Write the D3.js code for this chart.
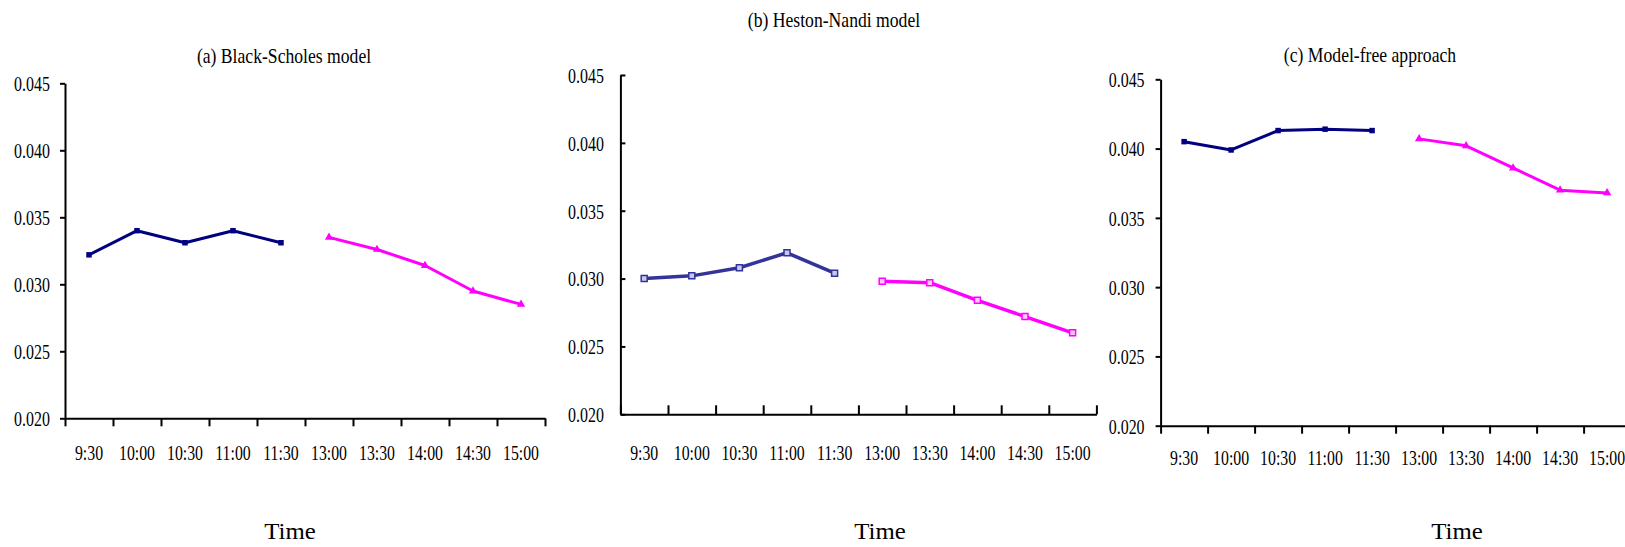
<!DOCTYPE html>
<html>
<head>
<meta charset="utf-8">
<script src="https://cdn.jsdelivr.net/npm/d3@7"></script>
<style>
  html, body { margin: 0; padding: 0; background: #fff; }
  svg { display: block; font-family: "Liberation Serif", "Times New Roman", serif; }
</style>
</head>
<body>
<div id="chart"></div>
<script>
const width = 1625;
const height = 547;

// categories and values
const times = ['9:30', '10:00', '10:30', '11:00', '11:30', '13:00', '13:30', '14:00', '14:30', '15:00'];
const morning = times.slice(0, 5);
const afternoon = times.slice(5);
const yTicks = [0.020, 0.025, 0.030, 0.035, 0.040, 0.045];

const bsMorning = [0.0322, 0.0340, 0.0331, 0.0340, 0.0331];
const bsAfternoon = [0.0335, 0.0326, 0.0314, 0.0295, 0.0285];
const hnMorning = [0.0300, 0.0302, 0.0308, 0.0319, 0.0304];
const hnAfternoon = [0.0298, 0.0297, 0.0284, 0.0272, 0.0260];
const mfMorning = [0.0405, 0.0399, 0.0413, 0.0414, 0.0413];
const mfAfternoon = [0.0407, 0.0402, 0.0386, 0.0370, 0.0368];

const titles = ['(a) Black-Scholes model', '(b) Heston-Nandi model', '(c) Model-free approach'];

// layout of each panel (pixels)
const panels = [
  { title: titles[0], am: bsMorning, pm: bsAfternoon,
    left: 65, step: 48, top: 83.3, bottom: 418.3, inward: false,
    titleX: 284, titleY: 63, labelRight: 50, xLabelY: 460, timeX: 290,
    amColor: '#000080', pmColor: '#ff00ff', amShape: d3.symbolSquare, pmShape: d3.symbolTriangle, hollow: false },
  { title: titles[1], am: hnMorning, pm: hnAfternoon,
    left: 620.4, step: 47.6, top: 75, bottom: 414.3, inward: true,
    titleX: 834, titleY: 27, labelRight: 604, xLabelY: 460, timeX: 880,
    amColor: '#333399', pmColor: '#ff00ff', amShape: d3.symbolSquare, pmShape: d3.symbolSquare, hollow: true },
  { title: titles[2], am: mfMorning, pm: mfAfternoon,
    left: 1160.6, step: 47.0, top: 79.3, bottom: 425.7, inward: false,
    titleX: 1370, titleY: 62, labelRight: 1144.6, xLabelY: 465, timeX: 1457,
    amColor: '#000080', pmColor: '#ff00ff', amShape: d3.symbolSquare, pmShape: d3.symbolTriangle, hollow: false },
];

const svg = d3.select('#chart')
  .append('svg')
  .attr('width', width)
  .attr('height', height);

// text in the figure is squeezed horizontally
function addText(parent, x, y, str, size, sx, anchor) {
  return parent.append('text')
    .attr('transform', `translate(${x},${y}) scale(${sx},1)`)
    .attr('text-anchor', anchor)
    .style('font-size', size + 'px')
    .attr('fill', '#000')
    .text(str);
}

panels.forEach(p => {
  const g = svg.append('g');
  const right = p.left + p.step * times.length;

  const y = d3.scaleLinear().domain([0.020, 0.045]).range([p.bottom, p.top]);
  const idx = d3.scaleLinear().domain([0, times.length]).range([p.left, right]);
  const x = d3.scalePoint().domain(times).range([p.left, right]).padding(0.5);

  // y axis
  const sxY = 0.76;
  const yAxis = d3.axisLeft(y)
    .tickValues(yTicks)
    .tickFormat(d3.format('.3f'))
    .tickSize(p.inward ? -5 : 5)
    .tickSizeOuter(0);
  const yg = g.append('g')
    .attr('transform', `translate(${p.left},0)`)
    .call(yAxis)
    .attr('font-family', null)
    .attr('font-size', null);
  yg.select('.domain').attr('stroke-width', 2);
  yg.selectAll('.tick line').attr('stroke-width', 2);
  yg.selectAll('.tick text')
    .attr('x', -(p.left - p.labelRight) / sxY)
    .attr('dy', '0.35em')
    .attr('transform', `scale(${sxY},1)`)
    .style('font-size', '21px');

  // x axis: ticks on the category boundaries
  const xAxis = d3.axisBottom(idx)
    .tickValues(d3.range(times.length + 1))
    .tickFormat('')
    .tickSize(p.inward ? -9 : 8)
    .tickSizeOuter(0);
  const xg = g.append('g')
    .attr('transform', `translate(0,${p.bottom})`)
    .call(xAxis);
  xg.select('.domain').attr('stroke-width', 2);
  xg.selectAll('.tick line').attr('stroke-width', 2);
  xg.selectAll('.tick text').remove();

  times.forEach(t => addText(g, x(t), p.xLabelY, t, 20, 0.79, 'middle'));

  // titles
  addText(g, p.titleX, p.titleY, p.title, 21.5, 0.82, 'middle');
  addText(g, p.timeX, 539, 'Time', 23, 1.08, 'middle');

  // series
  const series = [
    { cats: morning, vals: p.am, color: p.amColor, shape: p.amShape },
    { cats: afternoon, vals: p.pm, color: p.pmColor, shape: p.pmShape },
  ];
  series.forEach(s => {
    const pts = s.cats.map((c, i) => [x(c), y(s.vals[i])]);
    g.append('path')
      .attr('d', d3.line()(pts))
      .attr('fill', 'none')
      .attr('stroke', s.color)
      .attr('stroke-width', p.hollow ? 3.5 : 3)
      .attr('stroke-linejoin', 'round');

    g.selectAll(null)
      .data(pts)
      .join('path')
      .attr('transform', d => `translate(${d[0]},${d[1]})`)
      .attr('d', d3.symbol(s.shape, p.hollow ? 36 : 30))
      .attr('fill', p.hollow ? (s.color === '#ff00ff' ? '#ffc8ff' : '#c8c8f0') : s.color)
      .attr('stroke', p.hollow ? s.color : 'none')
      .attr('stroke-width', 1.5);
  });
});
</script>
</body>
</html>
